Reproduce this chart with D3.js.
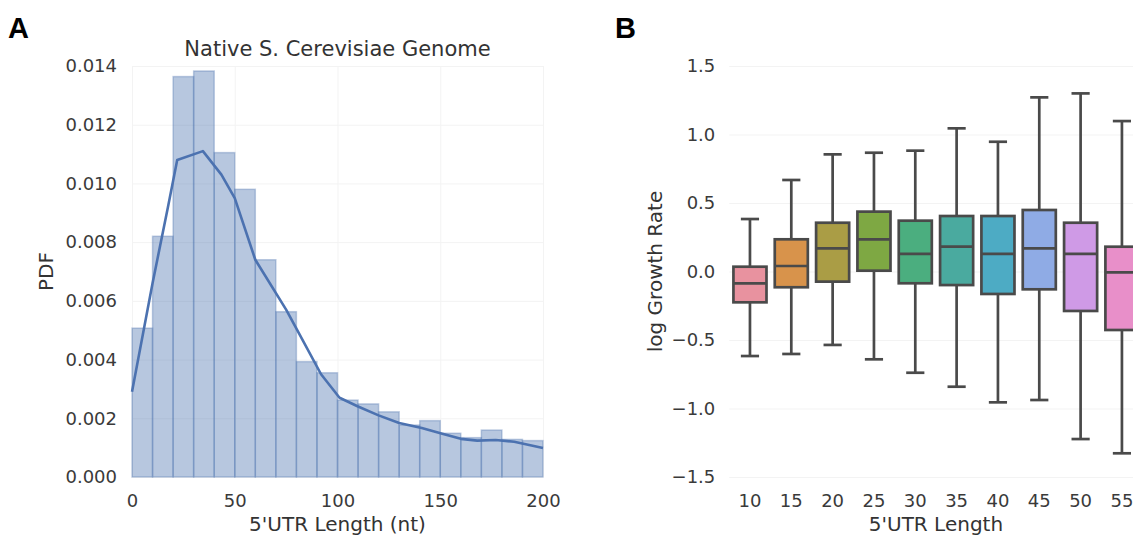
<!DOCTYPE html>
<html>
<head>
<meta charset="utf-8">
<script src="https://cdn.jsdelivr.net/npm/d3@7"></script>
<style>
  body { margin: 0; background: #fff; }
  svg text { font-family: "DejaVu Sans", sans-serif; fill: #333; }
  .axis .domain { display: none; }
  .axis line { stroke: #f3f3f3; stroke-width: 1; }
  .axis text { font-size: 18px; fill: #3a3a3a; }
  .panel-tag { font-family: "Liberation Sans", Arial, sans-serif; font-weight: bold; font-size: 29px; fill: #000; }
</style>
</head>
<body>
<svg id="chart" width="1133" height="537"></svg>
<script>
// --- panel A: histogram of 5'UTR lengths (bins of 10 nt) + KDE
const binStarts = [0,10,20,30,40,50,60,70,80,90,100,110,120,130,140,150,160,170,180,190];
const binPdf = [0.00507,0.0082,0.01364,0.01383,0.01105,0.0098,0.0074,0.00563,0.00393,0.00355,
                0.00262,0.00249,0.00222,0.00177,0.00192,0.00149,0.00134,0.0016,0.00128,0.00124];
const kdeX = [0,10,17.5,22,34.5,43.5,50,60,75,83.5,92,101,110,120,130,141,151,160,168,177,186,200];
const kdeY = [0.0029,0.0066,0.0092,0.0108,0.0111,0.0103,0.0095,0.0074,0.0057,0.0046,0.0035,0.0027,
              0.0024,0.0021,0.00184,0.00167,0.00147,0.0013,0.00124,0.00126,0.0012,0.00099];
const histTicksY = [0,0.002,0.004,0.006,0.008,0.010,0.012,0.014];
const histTicksX = [0,50,100,150,200];

// --- panel B: growth rate box plots by 5'UTR length
const utrLengths = ['10','15','20','25','30','35','40','45','50','55'];
const whiskerLow = [-0.617,-0.602,-0.536,-0.641,-0.739,-0.841,-0.955,-0.938,-1.223,-1.327];
const q1 = [-0.225,-0.115,-0.074,0.006,-0.086,-0.099,-0.164,-0.130,-0.288,-0.427];
const median = [-0.086,0.04,0.169,0.235,0.128,0.181,0.128,0.169,0.128,-0.006];
const q3 = [0.035,0.235,0.356,0.437,0.371,0.405,0.405,0.449,0.356,0.181];
const whiskerHigh = [0.383,0.668,0.855,0.867,0.882,1.045,0.947,1.271,1.30,1.098];
const boxColors = ['#e8929f','#d8934b','#aa9d45','#7ea843','#4bae7f','#4aaa9f','#4dabc4','#8fabe5','#cf9ae6','#e88fc9'];
const growthTicks = [-1.5,-1.0,-0.5,0.0,0.5,1.0,1.5];

const svg = d3.select('#chart');

// ============ Panel A ============
const A = {l:132, r:543, t:66, b:477};
const xA = d3.scaleLinear().domain([0,200]).range([A.l, A.r]);
const yA = d3.scaleLinear().domain([0,0.014]).range([A.b, A.t]);

svg.append('g').attr('class','axis')
  .attr('transform',`translate(${A.l},0)`)
  .call(d3.axisLeft(yA).tickValues(histTicksY).tickSize(-(A.r-A.l)).tickPadding(15)
    .tickFormat(d3.format('.3f')));
svg.append('g').attr('class','axis')
  .attr('transform',`translate(0,${A.b})`)
  .call(d3.axisBottom(xA).tickValues(histTicksX).tickSize(-(A.b-A.t)).tickPadding(17)
    .tickFormat(d3.format('d')));

const bins = binStarts.map((s,i) => ({x0:s, x1:s+10, v:binPdf[i]}));
svg.append('g').selectAll('rect').data(bins).enter().append('rect')
  .attr('x', d => xA(d.x0))
  .attr('width', d => xA(d.x1) - xA(d.x0))
  .attr('y', d => yA(d.v))
  .attr('height', d => yA(0) - yA(d.v))
  .attr('fill','#4C72B0').attr('fill-opacity',0.4)
  .attr('stroke','#4C72B0').attr('stroke-opacity',0.35).attr('stroke-width',1.5);

const kde = kdeX.map((x,i) => [x, kdeY[i]]);
svg.append('path').datum(kde)
  .attr('d', d3.line().x(d => xA(d[0])).y(d => yA(d[1])))
  .attr('fill','none').attr('stroke','#4C72B0').attr('stroke-width',2.6)
  .attr('stroke-linejoin','round');

svg.append('text').attr('x',(A.l+A.r)/2).attr('y',56).attr('text-anchor','middle')
  .style('font-size','21px').text('Native S. Cerevisiae Genome');
svg.append('text').attr('x',(A.l+A.r)/2).attr('y',531).attr('text-anchor','middle')
  .style('font-size','20px').text("5'UTR Length (nt)");
svg.append('text').attr('transform',`translate(46,${(A.t+A.b)/2}) rotate(-90)`)
  .attr('dy','0.35em').attr('text-anchor','middle')
  .style('font-size','20px').text('PDF');
svg.append('text').attr('class','panel-tag').attr('x',8).attr('y',38).text('A');

// ============ Panel B ============
const B = {l:729.3, r:1142.6, t:66, b:477};
const xB = d3.scaleBand().domain(utrLengths).range([B.l, B.r]).padding(0);
const yB = d3.scaleLinear().domain([-1.5,1.5]).range([B.b, B.t]);

svg.append('g').attr('class','axis')
  .attr('transform',`translate(${B.l},0)`)
  .call(d3.axisLeft(yB).tickValues(growthTicks).tickSize(-(B.r-B.l)).tickPadding(14)
    .tickFormat(d => d3.format('.1f')(d).replace('-','\u2212')));
svg.append('g').attr('class','axis')
  .attr('transform',`translate(0,${B.b})`)
  .call(d3.axisBottom(xB).tickSize(0).tickPadding(17));

const boxes = utrLengths.map((c,i) => ({c, lo:whiskerLow[i], q1:q1[i], med:median[i], q3:q3[i], hi:whiskerHigh[i], col:boxColors[i]}));
const bw = xB.bandwidth()*0.8;
const capW = bw*0.55;
const stroke = '#4a4a4a', sw = 2.7;
const g = svg.append('g').selectAll('g').data(boxes).enter().append('g')
  .attr('transform', d => `translate(${xB(d.c) + xB.bandwidth()/2},0)`);

g.append('line').attr('x1',0).attr('x2',0).attr('y1', d => yB(d.q3)).attr('y2', d => yB(d.hi))
  .attr('stroke',stroke).attr('stroke-width',sw);
g.append('line').attr('x1',0).attr('x2',0).attr('y1', d => yB(d.q1)).attr('y2', d => yB(d.lo))
  .attr('stroke',stroke).attr('stroke-width',sw);
g.append('line').attr('x1',-capW/2).attr('x2',capW/2).attr('y1', d => yB(d.hi)).attr('y2', d => yB(d.hi))
  .attr('stroke',stroke).attr('stroke-width',sw);
g.append('line').attr('x1',-capW/2).attr('x2',capW/2).attr('y1', d => yB(d.lo)).attr('y2', d => yB(d.lo))
  .attr('stroke',stroke).attr('stroke-width',sw);
g.append('rect').attr('x',-bw/2).attr('width',bw)
  .attr('y', d => yB(d.q3)).attr('height', d => yB(d.q1) - yB(d.q3))
  .attr('fill', d => d.col).attr('stroke',stroke).attr('stroke-width',sw);
g.append('line').attr('x1',-bw/2).attr('x2',bw/2).attr('y1', d => yB(d.med)).attr('y2', d => yB(d.med))
  .attr('stroke',stroke).attr('stroke-width',sw);

svg.append('text').attr('x',(B.l+B.r)/2).attr('y',531).attr('text-anchor','middle')
  .style('font-size','20px').text("5'UTR Length");
svg.append('text').attr('transform',`translate(655,${(B.t+B.b)/2}) rotate(-90)`)
  .attr('dy','0.35em').attr('text-anchor','middle')
  .style('font-size','20px').text('log Growth Rate');
svg.append('text').attr('class','panel-tag').attr('x',615).attr('y',38).text('B');
</script>
</body>
</html>
